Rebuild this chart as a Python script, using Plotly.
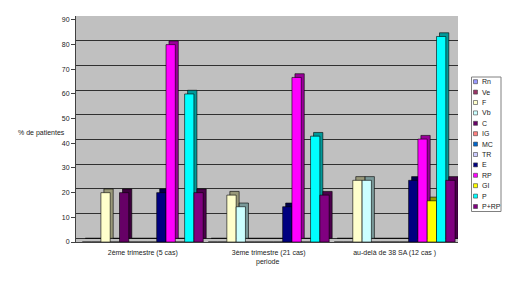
import plotly.graph_objects as go

categories = ["2ème trimestre (5 cas)", "3ème trimestre (21 cas)", "au-delà de 38 SA (12 cas )"]
series_names = ["Rn", "Ve", "F", "Vb", "C", "IG", "MC", "TR", "E", "RP", "GI", "P", "P+RP"]
series_colors = ["#9999FF", "#993366", "#FFFFCC", "#CCFFFF", "#660066", "#FF8080", "#0066CC",
                 "#CCCCFF", "#000080", "#FF00FF", "#FFFF00", "#00FFFF", "#800080"]
Rn = [0, 0, 0]
Ve = [0, 0, 0]
F = [20, 19.0, 25]
Vb = [0, 14.3, 25]
C = [20, 0, 0]
IG = [0, 0, 0]
MC = [0, 0, 0]
TR = [0, 0, 0]
E = [20, 14.3, 25]
RP = [80, 66.7, 41.7]
GI = [0, 0, 16.7]
P = [60, 42.9, 83.3]
P_RP = [20, 19.0, 25]
series_values = [Rn, Ve, F, Vb, C, IG, MC, TR, E, RP, GI, P, P_RP]
y_ticks = list(range(0, 100, 10))

W, H = 515, 282
L, R, T, B = 76, 57, 16, 40
PW, PH = W - L - R, H - T - B

def px2x(px):
    return (px - L) / PW

def px2y(py):
    return 1 - (py - T) / PH

def darker(hexc, f=0.6):
    h = hexc.lstrip("#")
    r, g, b = (int(h[i:i + 2], 16) for i in (0, 2, 4))
    return "rgb(%d,%d,%d)" % (r * f, g * f, b * f)

xr = [-0.53, 2.503]
yr = [0, 91.6]
ux = PW / (xr[1] - xr[0])
uy = PH / (yr[1] - yr[0])
dx, dy = 3.0, 3.7  # depth in px

fig = go.Figure()
# back (depth) faces
for name, vals, col in zip(series_names, series_values, series_colors):
    fig.add_trace(go.Bar(x=categories, y=vals, name=name, showlegend=False,
                         marker=dict(color=darker(col), line=dict(color="#000000", width=0.6)),
                         xaxis="x", yaxis="y", hoverinfo="skip"))
# front faces
for name, vals, col in zip(series_names, series_values, series_colors):
    fig.add_trace(go.Bar(x=categories, y=vals, name=name, showlegend=False,
                         marker=dict(color=col, line=dict(color="#000000", width=0.6)),
                         xaxis="x2", yaxis="y2"))

fig.update_layout(
    width=W, height=H,
    margin=dict(l=L, r=R, t=T, b=B),
    paper_bgcolor="white", plot_bgcolor="#C0C0C0",
    barmode="group", bargap=0.04, bargroupgap=0,
    font=dict(family="Liberation Sans, Arial, sans-serif", size=7, color="#222222"),
    xaxis=dict(type="category", range=[xr[0] - dx / ux, xr[1] - dx / ux], showticklabels=False,
               showgrid=False, zeroline=False, ticks=""),
    yaxis=dict(range=[yr[0] - dy / uy, yr[1] - dy / uy], tickvals=y_ticks, showticklabels=False,
               showgrid=True, gridcolor="#303030", gridwidth=1, zeroline=False, ticks=""),
    xaxis2=dict(type="category", overlaying="x", anchor="y2", range=xr, showgrid=False,
                showline=True, linecolor="#404040", linewidth=1, ticks="",
                ticklabelstandoff=4,
                tickfont=dict(size=7, color="#222222")),
    yaxis2=dict(overlaying="y", anchor="x2", range=yr, tickvals=y_ticks, showgrid=False,
                zeroline=False, showline=True, linecolor="#404040", linewidth=1,
                ticks="outside", ticklen=4, tickcolor="#404040",
                tickfont=dict(size=7, color="#222222")),
    showlegend=False,
)

annotations = [
    dict(text="% de patientes", x=px2x(41), y=px2y(133), xref="paper", yref="paper",
         showarrow=False, font=dict(size=7, color="#222222"), xanchor="center", yanchor="middle"),
    dict(text="periode", x=px2x(267), y=px2y(262), xref="paper", yref="paper",
         showarrow=False, font=dict(size=7, color="#222222"), xanchor="center", yanchor="middle"),
]
shapes = [dict(type="rect", xref="paper", yref="paper", x0=px2x(471.5), x1=px2x(501),
               y0=px2y(211.5), y1=px2y(77), line=dict(color="#808080", width=1), fillcolor="white")]
for i, (name, col) in enumerate(zip(series_names, series_colors)):
    cy = 81.7 + i * 10.4
    shapes.append(dict(type="rect", xref="paper", yref="paper", x0=px2x(473.5), x1=px2x(477.5),
                       y0=px2y(cy + 2), y1=px2y(cy - 2), fillcolor=col,
                       line=dict(color="#404040", width=0.6)))
    annotations.append(dict(text=name, x=px2x(479.5), y=px2y(cy), xref="paper", yref="paper",
                            showarrow=False, xanchor="left", yanchor="middle",
                            font=dict(size=7, color="#222222")))
fig.update_layout(annotations=annotations, shapes=shapes)

fig.write_html("out.html")
